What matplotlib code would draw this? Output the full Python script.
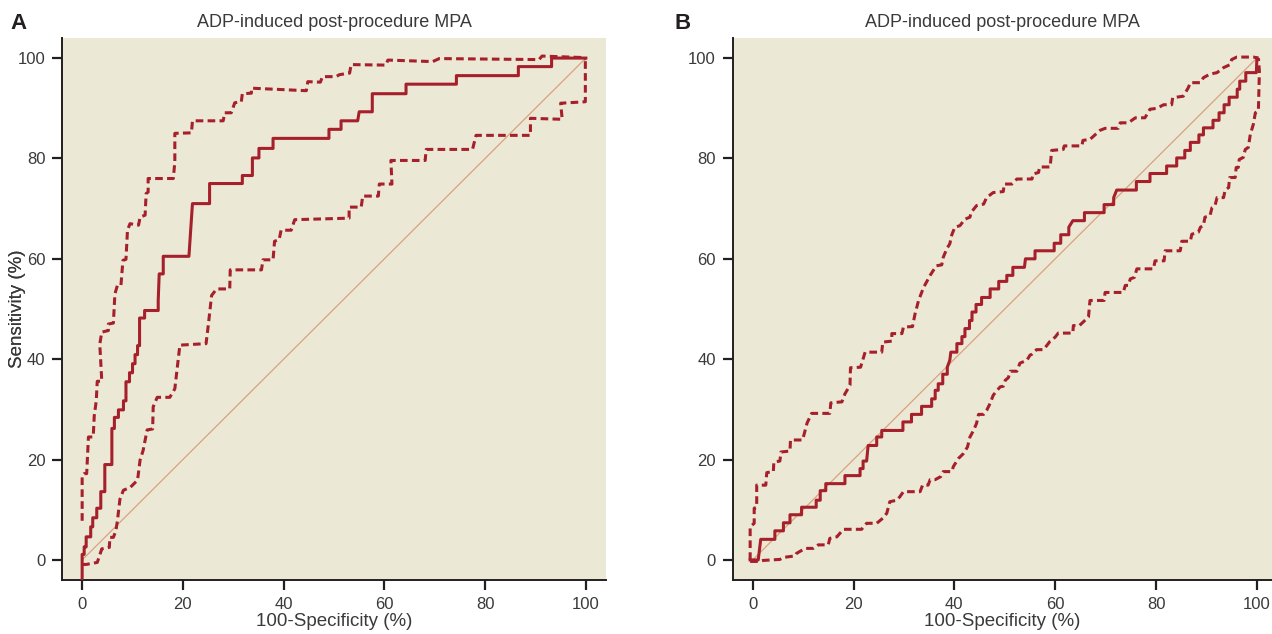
import matplotlib
matplotlib.use("Agg")
import matplotlib.pyplot as plt

# ---- panel A: ROC curve with 95% CI band ----
a_roc_x = [0, 0, 0.4, 0.4, 0.8, 0.8, 1.7, 1.7, 2.1, 2.1, 2.9, 2.9, 3.7, 3.7, 4.5, 4.5,
           5.9, 5.9, 6.4, 6.4, 7.2, 7.2, 8.2, 8.2, 8.7, 8.7, 9.4, 9.4, 10.0, 10.0,
           10.5, 10.5, 11.0, 11.0, 11.4, 11.4, 12.4, 12.4, 15.1, 15.1, 15.3, 16.1,
           16.1, 21.2, 21.9, 25.3, 25.3, 31.8, 31.8, 33.8, 33.8, 35.1, 35.1, 37.9,
           37.9, 49.0, 49.0, 51.4, 51.4, 54.7, 55.0, 57.6, 57.6, 64.3, 64.3, 74.3,
           74.3, 86.6, 86.6, 93.2, 93.2, 100]
a_roc_y = [-4.2, 1.1, 1.1, 2.6, 2.6, 4.6, 4.6, 6.6, 6.6, 8.4, 8.4, 10.3, 10.3, 13.6,
           13.6, 19.0, 19.0, 26.2, 26.2, 28.4, 28.4, 29.9, 29.9, 31.7, 31.7, 35.5,
           35.5, 37.3, 37.3, 39.1, 39.1, 40.9, 40.9, 42.7, 42.7, 48.2, 48.2, 49.7,
           49.7, 51.7, 57.0, 57.0, 60.5, 60.5, 71.0, 71.0, 75.0, 75.0, 76.6, 76.6,
           80.1, 80.1, 82.0, 82.0, 84.0, 84.0, 85.8, 85.8, 87.5, 87.5, 89.3, 89.3,
           92.9, 92.9, 94.8, 94.8, 96.5, 96.5, 98.3, 98.3, 100, 100]

a_hi_x = [0, 0, 0.4, 0.9, 1.25, 2.2, 2.4, 2.8, 3.0, 3.9, 3.5, 3.9, 5.2, 5.2, 6.2, 6.5,
          7.0, 7.7, 8.1, 8.7, 9.0, 9.5, 11.2, 11.5, 12.5, 12.7, 13.1, 13.1, 18.1,
          18.4, 18.4, 21.7, 21.9, 28.0, 28.3, 29.6, 30.3, 31.6, 31.8, 33.6, 33.6,
          44.5, 44.8, 47.3, 47.7, 50.4, 51.1, 53.1, 53.4, 60.3, 60.7, 69.6, 70.9,
          90.7, 91.3, 99.6, 100]
a_hi_y = [7.8, 16.8, 17.2, 17.2, 24.5, 24.5, 28.7, 31.7, 35.6, 35.6, 43.0, 45.4,
          45.7, 47.0, 47.2, 53.0, 54.7, 54.7, 59.7, 59.9, 65.7, 67.0, 66.7, 68.3,
          68.7, 73.0, 73.3, 76.0, 76.0, 79.3, 85.0, 85.1, 87.5, 87.5, 89.1, 89.1,
          91.1, 91.3, 92.9, 93.0, 94.0, 93.5, 95.3, 95.2, 96.3, 96.3, 96.7, 97.0,
          98.7, 98.6, 99.6, 99.3, 99.9, 99.7, 100.4, 100.1, 99.7]

a_lo_x = [0, 0.8, 3.0, 3.9, 5.4, 5.5, 6.2, 6.7, 7.0, 7.5, 8.2, 9.5, 11.0, 11.5, 12.1,
          12.9, 14.0, 14.1, 14.9, 17.4, 18.4, 19.4, 24.6, 25.0, 25.7, 26.7, 29.3,
          29.4, 35.6, 35.9, 37.9, 38.2, 39.1, 39.5, 41.5, 42.2, 53.0, 53.0, 55.4,
          55.7, 58.8, 59.0, 61.5, 61.3, 68.1, 68.3, 77.5, 78.2, 89.0, 89.0, 95.3,
          95.0, 99.9, 99.9, 100]
a_lo_y = [-0.9, -0.9, -0.5, 2.2, 2.5, 4.5, 4.5, 5.8, 7.8, 12.1, 13.9, 14.4, 15.9,
          19.9, 21.8, 25.9, 26.1, 30.5, 32.4, 32.4, 34.1, 42.8, 43.1, 46.4, 52.7,
          54.0, 54.0, 57.8, 57.8, 59.8, 59.8, 63.5, 63.8, 65.7, 65.7, 67.8, 68.1,
          70.3, 70.3, 72.5, 72.5, 74.9, 74.9, 79.6, 79.6, 81.8, 81.8, 84.6, 84.6,
          88.0, 87.8, 91.0, 91.3, 99.7, 100]

# ---- panel B ----
b_roc_x = [-0.5, 1.1, 1.6, 4.4, 4.4, 6.1, 6.1, 7.4, 7.4, 9.7, 9.7, 12.6, 12.6, 13.4,
           13.4, 14.5, 14.5, 18.3, 18.3, 21.3, 21.3, 21.9, 21.9, 22.6, 22.9, 24.6,
           24.6, 25.6, 25.6, 29.8, 29.8, 31.5, 31.5, 33.5, 33.5, 35.5, 35.5, 36.2,
           36.2, 36.8, 36.8, 37.7, 37.7, 38.6, 38.6, 39.1, 39.3, 40.5, 40.5, 41.5,
           41.5, 42.1, 42.1, 43.0, 43.0, 43.5, 43.5, 44.3, 44.3, 45.4, 45.4, 47.1,
           47.1, 48.8, 48.8, 50.4, 50.4, 51.6, 51.6, 53.9, 54.1, 56.0, 56.0, 59.8,
           59.8, 61.1, 61.1, 62.7, 62.7, 63.5, 65.8, 65.8, 69.7, 69.7, 71.6, 71.6,
           72.2, 76.1, 76.1, 78.8, 78.8, 82.1, 82.1, 84.1, 84.1, 85.7, 85.7, 86.8,
           86.8, 88.5, 88.5, 89.4, 89.4, 91.3, 91.3, 92.5, 92.5, 93.5, 93.5, 94.5,
           94.5, 96.1, 96.1, 96.6, 96.6, 97.8, 97.8, 99.9, 100]
b_roc_y = [0, 0, 4.1, 4.1, 5.8, 5.8, 7.4, 7.4, 9.0, 9.0, 10.5, 10.5, 11.9, 11.9, 13.8,
           13.8, 15.2, 15.2, 16.8, 16.8, 18.2, 18.2, 19.7, 19.7, 22.8, 22.8, 24.5,
           24.5, 25.8, 25.8, 27.5, 27.5, 29.0, 29.0, 30.6, 30.6, 32.1, 32.1, 33.8,
           33.8, 35.1, 35.1, 37.0, 37.0, 38.4, 39.8, 41.4, 41.4, 43.1, 43.1, 44.5,
           44.5, 46.1, 46.1, 47.7, 47.7, 49.4, 49.4, 50.9, 50.9, 52.3, 52.3, 54.0,
           54.0, 55.5, 55.5, 56.7, 56.7, 58.3, 58.3, 60.0, 60.0, 61.6, 61.6, 63.1,
           63.1, 64.8, 64.8, 66.3, 67.6, 67.6, 69.2, 69.2, 70.8, 70.8, 72.2, 73.7,
           73.7, 75.4, 75.4, 77.0, 77.0, 78.5, 78.5, 80.1, 80.1, 81.6, 81.6, 83.2,
           83.2, 84.7, 84.7, 86.1, 86.1, 87.6, 87.6, 89.1, 89.1, 90.7, 90.7, 92.2,
           92.2, 93.8, 93.8, 95.4, 95.4, 97.1, 97.1, 100]

b_hi_x = [-0.5, -0.5, 0.3, 0.3, 0.8, 0.8, 2.6, 2.8, 4.1, 4.2, 5.4, 5.6, 7.4, 7.5, 9.9,
          10.8, 11.7, 15.3, 15.5, 17.7, 18.3, 19.3, 19.4, 21.4, 22.3, 25.6, 25.8,
          27.6, 27.6, 29.6, 29.9, 31.7, 32.2, 32.9, 33.9, 35.2, 36.4, 37.5, 37.8,
          38.5, 39.1, 39.5, 40.1, 41.1, 42.1, 43.1, 43.3, 44.4, 45.8, 46.4, 47.7,
          49.7, 49.9, 51.4, 52.4, 55.4, 55.6, 56.7, 56.9, 59.0, 59.3, 61.6, 61.8,
          65.3, 65.5, 66.9, 68.9, 69.9, 72.5, 72.9, 74.5, 75.9, 77.8, 78.8, 80.2,
          81.5, 83.1, 83.3, 85.4, 86.4, 86.8, 88.8, 89.4, 90.7, 92.1, 93.4, 94.7,
          95.0, 96.0, 99.3, 100.3]
b_hi_y = [0, 6.6, 7.3, 10.3, 10.5, 14.9, 14.9, 17.4, 17.6, 19.5, 19.7, 21.5, 21.7,
          23.9, 23.9, 27.3, 29.2, 29.2, 31.3, 31.5, 33.1, 34.8, 38.3, 38.4, 41.4,
          41.4, 43.4, 43.6, 45.1, 45.1, 46.4, 46.5, 49.0, 51.7, 54.3, 56.7, 58.6,
          58.8, 60.3, 62.0, 63.0, 64.8, 66.3, 66.6, 67.9, 68.3, 69.2, 70.6, 70.9,
          72.2, 73.2, 73.4, 74.9, 74.9, 75.9, 75.9, 76.9, 77.2, 78.3, 78.3, 81.6,
          81.8, 82.5, 82.5, 83.6, 83.8, 85.6, 86.0, 86.0, 87.1, 87.1, 88.1, 88.1,
          89.8, 90.0, 90.7, 90.7, 92.1, 92.4, 94.1, 95.1, 95.1, 96.1, 96.8, 97.1,
          98.1, 98.7, 99.7, 100.2, 100.2, 100]

b_lo_x = [-0.5, 1.3, 2.1, 5.4, 6.1, 8.4, 8.7, 10.4, 12.0, 13.0, 15.0, 15.3, 16.7,
          18.0, 21.6, 22.6, 24.6, 25.8, 26.6, 27.2, 28.6, 29.2, 29.9, 33.2, 33.7,
          34.8, 35.2, 36.2, 37.3, 37.8, 39.5, 39.8, 40.8, 41.8, 42.6, 43.1, 43.8,
          44.4, 44.8, 45.8, 46.4, 47.1, 47.7, 48.4, 49.1, 49.7, 50.1, 50.7, 51.1,
          52.4, 53.0, 54.4, 55.0, 55.4, 56.3, 57.7, 59.0, 60.0, 60.6, 63.5, 63.6,
          64.8, 66.6, 66.9, 69.7, 69.9, 73.5, 73.9, 74.5, 74.9, 75.7, 76.2, 79.5,
          79.8, 81.6, 81.8, 84.8, 85.1, 86.8, 87.1, 88.4, 88.8, 89.4, 89.7, 90.7,
          91.1, 91.7, 92.1, 93.4, 93.7, 94.4, 94.6, 95.7, 95.9, 96.3, 96.5, 97.3,
          97.7, 98.3, 98.7, 99.3, 99.7, 100.3, 100.5, 100.3]
b_lo_y = [-0.3, -0.3, -0.1, 0.1, 0.5, 0.8, 1.3, 2.3, 2.3, 3.0, 3.0, 4.3, 4.6, 6.1,
          6.1, 7.3, 7.3, 8.3, 9.3, 11.6, 11.9, 12.6, 13.6, 13.6, 14.9, 14.9, 16.0,
          16.0, 16.6, 17.6, 17.6, 18.6, 20.2, 21.2, 22.5, 24.5, 25.8, 27.2, 29.0,
          29.0, 29.8, 31.2, 32.8, 33.7, 34.5, 34.6, 35.8, 36.3, 37.6, 37.6, 39.2,
          39.8, 40.8, 41.0, 41.9, 41.9, 43.6, 44.4, 45.2, 45.2, 46.7, 46.7, 48.4,
          51.7, 51.7, 53.3, 53.3, 54.7, 54.7, 56.0, 56.3, 58.0, 58.0, 59.6, 59.6,
          61.6, 61.6, 63.5, 63.5, 64.9, 65.3, 66.3, 66.6, 68.3, 68.6, 70.2, 70.6,
          72.2, 72.2, 73.7, 74.2, 76.2, 76.2, 78.2, 78.2, 79.8, 80.2, 81.8, 82.2,
          84.8, 86.8, 89.1, 89.5, 97.4, 100]

ticks = [0, 20, 40, 60, 80, 100]
title = "ADP-induced post-procedure MPA"

RED = "#a6202b"
DIAG = "#d9a27e"
BG = "#ece8d6"
INK = "#231f20"
TXT = "#3a3a3a"
dash = (0, (2.5, 1.4))
FAM = ["Liberation Sans", "DejaVu Sans"]

W, H = 1272, 634
fig = plt.figure(figsize=(W / 100, H / 100), dpi=100)

panels = [
    ("A", 10, [62, 606], (-4, 104), a_roc_x, a_roc_y, a_hi_x, a_hi_y, a_lo_x, a_lo_y),
    ("B", 674, [732.5, 1272], (-4, 103), b_roc_x, b_roc_y, b_hi_x, b_hi_y, b_lo_x, b_lo_y),
]

for letter, lx, (x0, x1), xlim, rx, ry, hx, hy, lox, loy in panels:
    ax = fig.add_axes([x0 / W, (H - 580) / H, (x1 - x0) / W, 542 / H])
    ax.set_facecolor(BG)
    ax.plot([0, 100], [0, 100], color=DIAG, lw=0.9, zorder=1)
    ax.plot(hx, hy, color=RED, lw=2.2, ls=dash, zorder=2)
    ax.plot(lox, loy, color=RED, lw=2.2, ls=dash, zorder=2)
    ax.plot(rx, ry, color=RED, lw=2.2, zorder=3)

    ax.set_xlim(*xlim)
    ax.set_ylim(-4, 104)
    ax.set_xticks(ticks)
    ax.set_yticks(ticks)
    for s in ("top", "right"):
        ax.spines[s].set_visible(False)
    for s in ("left", "bottom"):
        ax.spines[s].set_color(INK)
        ax.spines[s].set_linewidth(1.4)
    ax.tick_params(direction="out", length=7.5, width=1.6, color=INK,
                   labelsize=12, labelcolor=TXT, pad=4.5)
    for lab in ax.get_xticklabels() + ax.get_yticklabels():
        lab.set_family(FAM)

    ax.set_title(title, fontsize=13, color=TXT, pad=8, family=FAM)
    ax.set_xlabel("100-Specificity (%)", fontsize=13.5, color=TXT, family=FAM)
    ax.set_ylabel("Sensitivity (%)", fontsize=13.5, color=TXT, family=FAM)
    ax.xaxis.set_label_coords(0.5, -0.06)
    ax.yaxis.set_label_coords((26 - x0) / (x1 - x0), 0.5)

    fig.text(lx / W, 1 - 29 / H, letter, fontsize=16, fontweight="bold",
             color=INK, va="baseline", family=FAM)

fig.savefig("out.png", dpi=100)
